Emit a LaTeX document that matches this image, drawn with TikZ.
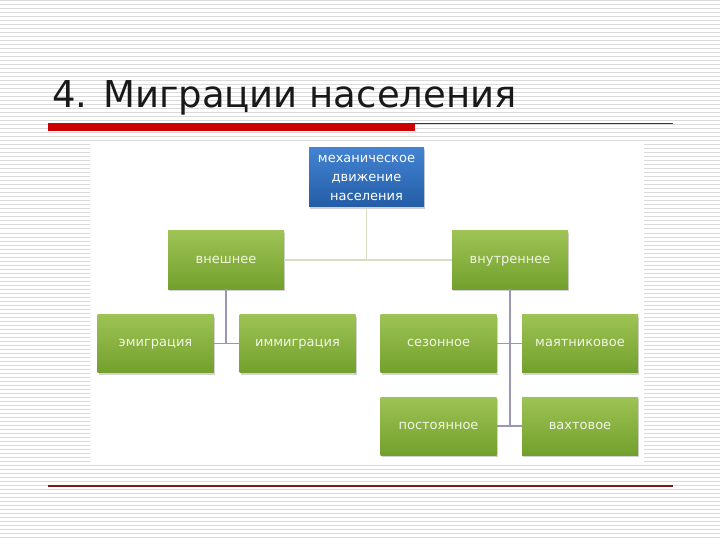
\documentclass[tikz,border=0pt]{standalone}
\usepackage{fontspec}
\setmainfont{DejaVu Sans}
\usetikzlibrary{shadows}

\definecolor{stripegray}{HTML}{DADADA}
\definecolor{barred}{HTML}{CC0000}
\definecolor{rulered}{HTML}{7A1A1A}
\definecolor{greentop}{HTML}{9DC354}
\definecolor{greenbot}{HTML}{73A02D}
\definecolor{bluetop}{HTML}{4383D2}
\definecolor{bluebot}{HTML}{245DA6}
\definecolor{palelink}{HTML}{D9DCC2}
\definecolor{greylink}{HTML}{9A97B6}
\definecolor{boxtext}{HTML}{F1F5E4}

\tikzset{
	kindbox/.style={
		minimum width=116pt, minimum height=58pt, inner sep=2pt,
		text height=1.6ex, text depth=0.5ex,
		top color=greentop, bottom color=greenbot,
		drop shadow={shadow xshift=1pt, shadow yshift=-2pt, opacity=0.35},
		text=boxtext, font=\fontsize{13}{15}\selectfont
	},
	rootbox/.style={
		minimum width=115pt, minimum height=59pt, inner sep=1pt,
		top color=bluetop, bottom color=bluebot, align=center,
		drop shadow={shadow xshift=1pt, shadow yshift=-2pt, opacity=0.35},
		text=white, font=\fontsize{13}{19}\selectfont
	},
	palelinkline/.style={draw=palelink, line width=1.6pt},
	linkline/.style={draw=greylink, line width=1.5pt}
}

\begin{document}
\begin{tikzpicture}[x=1pt, y=-1pt, line cap=butt]

	\useasboundingbox (0,0) rectangle (720,540);

	% striped slide background
	\fill[white] (0,0) rectangle (720,540);
	\foreach \yy in {1,5,...,540}
		\draw[stripegray, line width=1pt] (0,\yy) -- (720,\yy);

	% title and rules
	\node[anchor=base west, inner sep=0pt, font=\fontsize{37}{42}\selectfont, text=black!90]
		(title) at (52,108) {4. Миграции населения};
	\fill[barred] (48,123) rectangle (415,131);
	\draw[rulered, line width=1pt] (415,123.5) -- (673,123.5);
	\draw[rulered, line width=1.3pt] (48,486) -- (673,486);

	% white panel of the chart
	\fill[white] (90,142) rectangle (644,463);

	% boxes
	\node[rootbox] (mech) at (366.5,177.5) {механическое\\движение\\населения};

	\node[kindbox] (vnesh) at (226,260) {внешнее};
	\node[kindbox] (vnutr) at (510,260) {внутреннее};

	\node[kindbox] (emig) at (155.5,343.5) {эмиграция};
	\node[kindbox] (immig) at (297.5,343.5) {иммиграция};

	\node[kindbox] (sezon) at (438.5,343.5) {сезонное};
	\node[kindbox] (mayat) at (580,343.5) {маятниковое};
	\node[kindbox] (post) at (438.5,426) {постоянное};
	\node[kindbox] (vakht) at (580,426) {вахтовое};

	% connectors
	\draw[palelinkline] (mech.south) -- (mech.south |- vnesh.east);
	\draw[palelinkline] (vnesh.east) -- (vnutr.west);

	\draw[linkline] (vnesh.south) -- (vnesh.south |- emig.east);
	\draw[linkline] (emig.east) -- (immig.west);

	\draw[linkline] (vnutr.south) -- (vnutr.south |- post.east);
	\draw[linkline] (sezon.east) -- (mayat.west);
	\draw[linkline] (post.east) -- (vakht.west);

\end{tikzpicture}
\end{document}
